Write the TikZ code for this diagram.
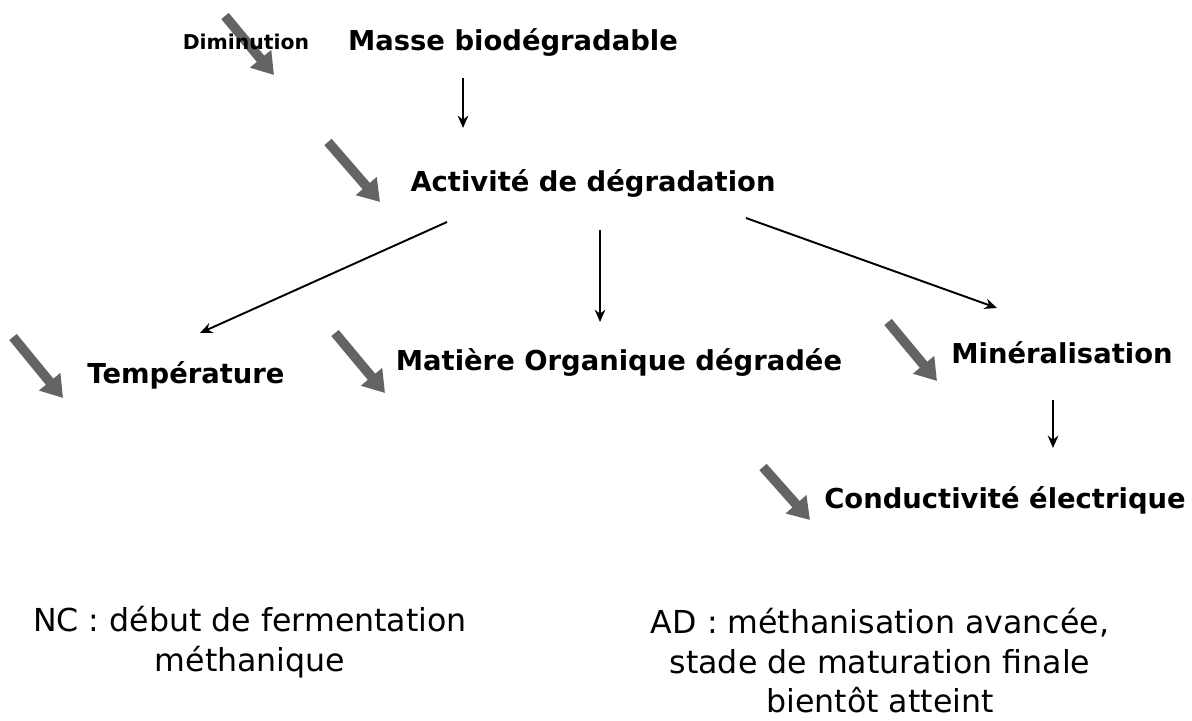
\documentclass[tikz,border=0pt]{standalone}
\usepackage{fontspec}
\setmainfont{DejaVu Sans}
\usetikzlibrary{arrows.meta,calc,backgrounds}
\definecolor{greyA}{HTML}{646464}

\begin{document}
\begin{tikzpicture}[x=0.02cm, y=-0.02cm,
  lb/.style={font=\bfseries\fontsize{15.6}{18}\selectfont, inner sep=0pt},
  nt/.style={font=\fontsize{18}{22.5}\selectfont, align=center, inner sep=0pt},
  fl/.style={-{Stealth[length=7pt,width=6pt]}, line width=1.1pt},
  baisse/.style={greyA, line width=5.5pt, -{Triangle[length=12pt,width=15pt]}}
]
\useasboundingbox (0,0) rectangle (1192,720);
% top
\node[font=\bfseries\fontsize{11.6}{13}\selectfont, inner sep=0pt] (dimin) at (246,42) {Diminution};
\node[lb] (masse) at (513,42) {Masse biodégradable};
\node[lb] (activ) at (593,183) {Activité de dégradation};
% middle row
\node[lb] (temp) at (186,375) {Température};
\node[lb] (matiere) at (619,362) {Matière Organique dégradée};
\node[lb] (miner) at (1062,353) {Minéralisation};
\node[lb] (conduc) at (1005,500) {Conductivité électrique};
% notes
\node[nt] (nc) at (250,642) {NC : début de fermentation\\méthanique};
\node[nt] (ad) at (880,661) {AD : méthanisation avancée,\\stade de maturation finale\\bientôt atteint};
% links
\draw[fl] ($(masse)+(-50,36)$) -- ($(activ)+(-130,-55)$);
\draw[fl] ($(activ)+(-146,39)$) -- ($(temp)+(14,-42)$);
\draw[fl] ($(activ)+(7,47)$) -- ($(matiere)+(-19,-40)$);
\draw[fl] ($(activ)+(153,35)$) -- ($(miner)+(-65,-45)$);
\draw[fl] ($(miner)+(-9,47)$) -- ($(conduc)+(48,-52)$);
% grey arrows
\begin{scope}[on background layer]
\draw[baisse] ($(dimin)+(-21,-26)$) -- ($(dimin)+(28,33)$);
\draw[baisse] ($(activ)+(-265,-41)$) -- ($(activ)+(-213,19)$);
\draw[baisse] ($(temp)+(-173,-38)$) -- ($(temp)+(-123,23)$);
\draw[baisse] ($(matiere)+(-284,-29)$) -- ($(matiere)+(-234,31)$);
\draw[baisse] ($(miner)+(-174,-31)$) -- ($(miner)+(-125,28)$);
\draw[baisse] ($(conduc)+(-242,-33)$) -- ($(conduc)+(-195,20)$);
\end{scope}
\end{tikzpicture}
\end{document}
